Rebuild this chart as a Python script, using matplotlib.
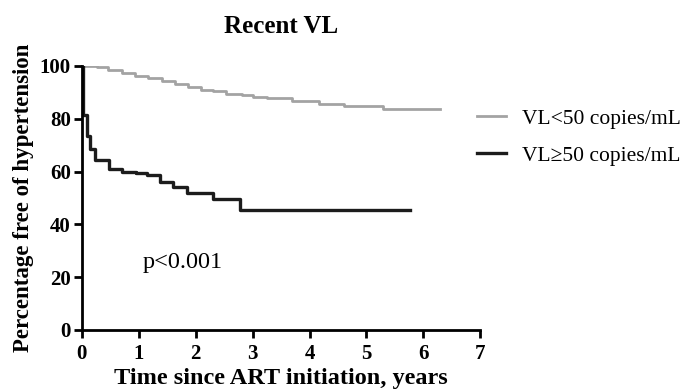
import numpy as np
import matplotlib
matplotlib.use("Agg")
import matplotlib.pyplot as plt

# Kaplan-Meier steps (years, % free of hypertension)
low_vl_t = [0, 0.26, 0.46, 0.70, 0.93, 1.17, 1.40, 1.64, 1.87, 2.10, 2.30, 2.54,
            2.81, 3.01, 3.25, 3.69, 4.16, 4.60, 5.30, 6.30]
low_vl_s = [100, 99.5, 98.3, 97.3, 96.3, 95.4, 94.4, 93.2, 92.0, 91.0, 90.5, 89.5,
            88.8, 88.3, 87.8, 86.8, 85.7, 84.7, 83.7, 83.7]
high_vl_t = [0, 0.02, 0.09, 0.14, 0.23, 0.47, 0.71, 0.95, 1.14, 1.37, 1.61, 1.84,
             2.31, 2.78, 5.77]
high_vl_s = [100, 81.5, 73.5, 68.5, 64.5, 61, 60, 59.5, 58.5, 56, 54, 52,
             49.5, 45.5, 45.5]
labels = ["VL<50 copies/mL", "VL\u226550 copies/mL"]
xticks = [0, 1, 2, 3, 4, 5, 6, 7]
yticks = [0, 20, 40, 60, 80, 100]

plt.rcParams['font.family'] = ['Liberation Serif', 'DejaVu Serif']

fig = plt.figure(figsize=(6.88, 3.9), dpi=100)
ax = fig.add_axes([0.119, 0.154, 0.579, 0.677])

ax.step(low_vl_t, low_vl_s, where='post', color='#a3a3a3', lw=2.0, label=labels[0])
ax.step(high_vl_t, high_vl_s, where='post', color='#1c1c1c', lw=2.4, label=labels[1])

ax.set_xlim(0, 7)
ax.set_ylim(0, 100)
ax.set_xticks(xticks)
ax.set_yticks(yticks)
for s in ['top', 'right']:
    ax.spines[s].set_visible(False)
for s in ['left', 'bottom']:
    ax.spines[s].set_linewidth(2)
ax.tick_params(width=2, length=6, labelsize=15, pad=2)
ax.tick_params(axis='x', pad=4)
for lab in ax.get_xticklabels() + ax.get_yticklabels():
    lab.set_fontweight('bold')

ax.set_title("Recent VL", fontsize=18, fontweight='bold', pad=24)
ax.set_xlabel("Time since ART initiation, years", fontsize=17.5, fontweight='bold', labelpad=3)
ax.set_ylabel("Percentage free of hypertension", fontsize=16.5, fontweight='bold', labelpad=4)

ax.text(1.07, 23.6, "p<0.001", fontsize=17.5, va='baseline', ha='left')

ax.legend(loc='center left', bbox_to_anchor=(0.9925, 0.73), frameon=False,
          fontsize=15.5, handlelength=1.35, handletextpad=0.72, labelspacing=0.8,
          borderpad=0, borderaxespad=0)

fig.savefig("out.png", dpi=100)
